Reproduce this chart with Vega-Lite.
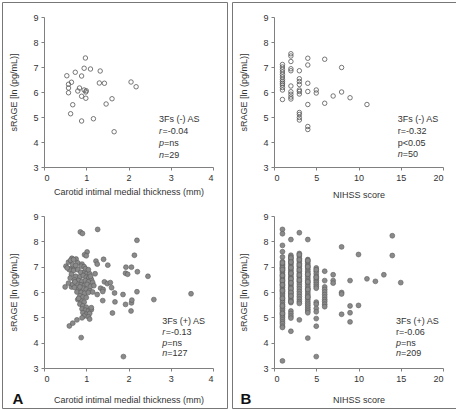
{
"$schema": "https://vega.github.io/schema/vega-lite/v6.json",
"padding": {"left": 1, "top": 1, "right": 1, "bottom": 1},
"autosize": {"type": "pad"},
"spacing": 3,
"config": {
  "font": "Liberation Sans",
  "view": {"stroke": "#777", "strokeWidth": 1},
  "axis": {"grid": false, "format": "d", "domainColor": "#808080", "tickColor": "#808080", "labelColor": "#333", "titleColor": "#333", "labelFontSize": 9, "titleFontSize": 9, "titleFontWeight": "normal", "tickSize": 3, "labelPadding": 3},
  "text": {"fontSize": 9, "color": "#333", "align": "left", "baseline": "middle"}
},
"datasets": {
  "ta": [{"cimt":0.98,"srage":7.36},{"cimt":0.95,"srage":6.95},{"cimt":1.10,"srage":6.92},{"cimt":1.33,"srage":6.84},{"cimt":0.74,"srage":6.79},{"cimt":0.54,"srage":6.65},{"cimt":0.89,"srage":6.64},{"cimt":0.65,"srage":6.39},{"cimt":0.58,"srage":6.31},{"cimt":1.31,"srage":6.36},{"cimt":1.43,"srage":6.35},{"cimt":2.06,"srage":6.40},{"cimt":2.18,"srage":6.21},{"cimt":0.58,"srage":6.16},{"cimt":0.84,"srage":6.16},{"cimt":0.80,"srage":6.04},{"cimt":0.95,"srage":6.08},{"cimt":0.99,"srage":6.00},{"cimt":0.58,"srage":5.97},{"cimt":0.89,"srage":5.83},{"cimt":0.99,"srage":5.75},{"cimt":1.61,"srage":5.73},{"cimt":1.47,"srage":5.52},{"cimt":0.68,"srage":5.49},{"cimt":0.63,"srage":5.13},{"cimt":1.17,"srage":4.93},{"cimt":0.89,"srage":4.84},{"cimt":1.66,"srage":4.41},{"cimt":1.00,"srage":6.05}],
  "ba": [{"cimt":0.86,"srage":8.37},{"cimt":0.91,"srage":8.31},{"cimt":1.27,"srage":8.47},{"cimt":2.20,"srage":8.04},{"cimt":1.02,"srage":7.58},{"cimt":0.96,"srage":7.47},{"cimt":1.00,"srage":7.43},{"cimt":2.14,"srage":7.45},{"cimt":0.66,"srage":7.33},{"cimt":0.76,"srage":7.30},{"cimt":1.41,"srage":7.29},{"cimt":1.23,"srage":7.22},{"cimt":1.26,"srage":7.10},{"cimt":1.51,"srage":7.06},{"cimt":0.52,"srage":7.02},{"cimt":1.94,"srage":6.98},{"cimt":2.07,"srage":6.98},{"cimt":0.62,"srage":6.92},{"cimt":0.72,"srage":6.95},{"cimt":1.93,"srage":6.74},{"cimt":1.98,"srage":6.70},{"cimt":2.21,"srage":6.80},{"cimt":2.46,"srage":6.62},{"cimt":1.21,"srage":6.72},{"cimt":1.43,"srage":6.40},{"cimt":1.50,"srage":6.33},{"cimt":1.57,"srage":6.37},{"cimt":1.34,"srage":6.15},{"cimt":1.40,"srage":6.10},{"cimt":1.60,"srage":6.17},{"cimt":0.50,"srage":6.20},{"cimt":0.65,"srage":6.20},{"cimt":1.39,"srage":6.02},{"cimt":1.67,"srage":5.96},{"cimt":1.26,"srage":5.90},{"cimt":1.87,"srage":5.90},{"cimt":2.20,"srage":6.01},{"cimt":3.48,"srage":5.93},{"cimt":2.60,"srage":5.70},{"cimt":1.39,"srage":5.66},{"cimt":1.68,"srage":5.61},{"cimt":1.93,"srage":5.51},{"cimt":2.07,"srage":5.57},{"cimt":2.08,"srage":5.68},{"cimt":1.62,"srage":5.17},{"cimt":2.06,"srage":5.25},{"cimt":0.60,"srage":4.66},{"cimt":0.68,"srage":4.77},{"cimt":0.78,"srage":4.90},{"cimt":0.88,"srage":4.20},{"cimt":1.88,"srage":3.45},
    {"cimt":0.58,"srage":7.18},{"cimt":0.63,"srage":7.25},{"cimt":0.70,"srage":7.28},{"cimt":0.80,"srage":7.15},{"cimt":0.90,"srage":7.10},{"cimt":0.88,"srage":7.02},{"cimt":0.95,"srage":7.00},{"cimt":0.68,"srage":7.08},{"cimt":0.75,"srage":7.05},{"cimt":0.60,"srage":6.88},{"cimt":0.70,"srage":6.85},{"cimt":0.80,"srage":6.88},{"cimt":0.87,"srage":6.78},{"cimt":0.97,"srage":6.82},{"cimt":1.02,"srage":6.75},{"cimt":1.08,"srage":6.72},{"cimt":0.65,"srage":6.70},{"cimt":0.75,"srage":6.62},{"cimt":0.85,"srage":6.60},{"cimt":0.93,"srage":6.65},{"cimt":1.00,"srage":6.58},{"cimt":1.06,"srage":6.55},{"cimt":1.12,"srage":6.50},{"cimt":0.62,"srage":6.55},{"cimt":0.72,"srage":6.48},{"cimt":0.82,"srage":6.45},{"cimt":0.90,"srage":6.42},{"cimt":0.98,"srage":6.45},{"cimt":1.05,"srage":6.40},{"cimt":1.15,"srage":6.38},{"cimt":0.58,"srage":6.35},{"cimt":0.68,"srage":6.30},{"cimt":0.78,"srage":6.32},{"cimt":0.88,"srage":6.28},{"cimt":0.95,"srage":6.25},{"cimt":1.02,"srage":6.30},{"cimt":1.10,"srage":6.22},{"cimt":0.72,"srage":6.18},{"cimt":0.82,"srage":6.12},{"cimt":0.92,"srage":6.15},{"cimt":1.00,"srage":6.10},{"cimt":1.08,"srage":6.05},{"cimt":0.78,"srage":6.00},{"cimt":0.88,"srage":5.98},{"cimt":0.96,"srage":5.95},{"cimt":1.05,"srage":5.98},{"cimt":1.15,"srage":6.00},{"cimt":0.85,"srage":5.85},{"cimt":0.92,"srage":5.80},{"cimt":1.00,"srage":5.78},{"cimt":0.80,"srage":5.70},{"cimt":0.88,"srage":5.65},{"cimt":0.95,"srage":5.60},{"cimt":0.85,"srage":5.52},{"cimt":0.92,"srage":5.45},{"cimt":1.00,"srage":5.40},{"cimt":0.90,"srage":5.33},{"cimt":0.98,"srage":5.28},{"cimt":1.05,"srage":5.25},{"cimt":1.12,"srage":5.30},{"cimt":0.92,"srage":5.18},{"cimt":1.00,"srage":5.12},{"cimt":1.08,"srage":5.15},{"cimt":0.95,"srage":5.05},{"cimt":1.05,"srage":5.02},{"cimt":0.90,"srage":4.98},{"cimt":1.08,"srage":4.93},{"cimt":1.12,"srage":5.38},{"cimt":0.82,"srage":5.75},{"cimt":1.10,"srage":6.62},{"cimt":0.55,"srage":6.95},{"cimt":1.18,"srage":6.25},{"cimt":0.98,"srage":6.92},{"cimt":1.05,"srage":6.88},{"cimt":0.73,"srage":6.40},{"cimt":0.85,"srage":6.20}],
  "tb": [{"nihss":1,"srage":7.10},{"nihss":1,"srage":7.00},{"nihss":1,"srage":6.90},{"nihss":1,"srage":6.80},{"nihss":1,"srage":6.70},{"nihss":1,"srage":6.60},{"nihss":1,"srage":6.50},{"nihss":1,"srage":6.42},{"nihss":1,"srage":6.35},{"nihss":1,"srage":6.28},{"nihss":1,"srage":6.18},{"nihss":1,"srage":6.08},{"nihss":1,"srage":5.70},
    {"nihss":2,"srage":7.53},{"nihss":2,"srage":7.44},{"nihss":2,"srage":7.22},{"nihss":2,"srage":6.93},{"nihss":2,"srage":6.85},{"nihss":2,"srage":6.24},{"nihss":2,"srage":6.01},{"nihss":2,"srage":5.91},{"nihss":2,"srage":5.80},{"nihss":2,"srage":5.72},
    {"nihss":3,"srage":6.85},{"nihss":3,"srage":6.53},{"nihss":3,"srage":6.42},{"nihss":3,"srage":6.30},{"nihss":3,"srage":6.08},{"nihss":3,"srage":6.02},{"nihss":3,"srage":5.92},{"nihss":3,"srage":5.18},{"nihss":3,"srage":5.10},{"nihss":3,"srage":4.98},{"nihss":3,"srage":4.88},
    {"nihss":4,"srage":7.35},{"nihss":4,"srage":7.08},{"nihss":4,"srage":6.35},{"nihss":4,"srage":6.02},{"nihss":4,"srage":5.50},{"nihss":4,"srage":4.62},{"nihss":4,"srage":4.50},
    {"nihss":5,"srage":6.08},{"nihss":5,"srage":5.96},{"nihss":6,"srage":7.31},{"nihss":6,"srage":5.55},{"nihss":7,"srage":5.84},{"nihss":8,"srage":6.98},{"nihss":8,"srage":6.00},{"nihss":9,"srage":5.77},{"nihss":11,"srage":5.50}],
  "bb": [{"nihss":1,"srage":8.47},{"nihss":1,"srage":8.30},{"nihss":1,"srage":7.84},{"nihss":1,"srage":7.59},{"nihss":1,"srage":7.38},{"nihss":1,"srage":7.20},{"nihss":1,"srage":7.10},{"nihss":1,"srage":7.05},{"nihss":1,"srage":6.98},{"nihss":1,"srage":6.92},{"nihss":1,"srage":6.85},{"nihss":1,"srage":6.78},{"nihss":1,"srage":6.70},{"nihss":1,"srage":6.62},{"nihss":1,"srage":6.55},{"nihss":1,"srage":6.48},{"nihss":1,"srage":6.40},{"nihss":1,"srage":6.32},{"nihss":1,"srage":6.25},{"nihss":1,"srage":6.18},{"nihss":1,"srage":6.10},{"nihss":1,"srage":6.02},{"nihss":1,"srage":5.95},{"nihss":1,"srage":5.88},{"nihss":1,"srage":5.80},{"nihss":1,"srage":5.72},{"nihss":1,"srage":5.65},{"nihss":1,"srage":5.58},{"nihss":1,"srage":5.50},{"nihss":1,"srage":5.42},{"nihss":1,"srage":5.35},{"nihss":1,"srage":5.28},{"nihss":1,"srage":5.20},{"nihss":1,"srage":5.12},{"nihss":1,"srage":5.05},{"nihss":1,"srage":4.98},{"nihss":1,"srage":4.90},{"nihss":1,"srage":4.82},{"nihss":1,"srage":4.75},{"nihss":1,"srage":4.65},{"nihss":1,"srage":4.60},{"nihss":1,"srage":3.28},{"nihss":1,"srage":7.15},{"nihss":1,"srage":6.95},{"nihss":1,"srage":6.88},{"nihss":1,"srage":6.65},{"nihss":1,"srage":6.45},{"nihss":1,"srage":6.28},{"nihss":1,"srage":6.05},{"nihss":1,"srage":5.75},{"nihss":1,"srage":5.45},{"nihss":1,"srage":5.15},
    {"nihss":2,"srage":8.07},{"nihss":2,"srage":7.45},{"nihss":2,"srage":7.38},{"nihss":2,"srage":7.30},{"nihss":2,"srage":7.22},{"nihss":2,"srage":7.15},{"nihss":2,"srage":7.08},{"nihss":2,"srage":7.00},{"nihss":2,"srage":6.92},{"nihss":2,"srage":6.85},{"nihss":2,"srage":6.78},{"nihss":2,"srage":6.70},{"nihss":2,"srage":6.62},{"nihss":2,"srage":6.55},{"nihss":2,"srage":6.48},{"nihss":2,"srage":6.40},{"nihss":2,"srage":6.32},{"nihss":2,"srage":6.25},{"nihss":2,"srage":6.18},{"nihss":2,"srage":6.10},{"nihss":2,"srage":6.02},{"nihss":2,"srage":5.95},{"nihss":2,"srage":5.88},{"nihss":2,"srage":5.80},{"nihss":2,"srage":5.72},{"nihss":2,"srage":5.65},{"nihss":2,"srage":5.58},{"nihss":2,"srage":5.25},{"nihss":2,"srage":5.15},{"nihss":2,"srage":5.05},{"nihss":2,"srage":4.97},{"nihss":2,"srage":4.45},{"nihss":2,"srage":7.34},{"nihss":2,"srage":7.18},{"nihss":2,"srage":6.96},{"nihss":2,"srage":6.74},{"nihss":2,"srage":6.52},{"nihss":2,"srage":6.36},{"nihss":2,"srage":6.14},{"nihss":2,"srage":5.98},{"nihss":2,"srage":5.84},{"nihss":2,"srage":5.62},
    {"nihss":3,"srage":8.34},{"nihss":3,"srage":7.52},{"nihss":3,"srage":7.42},{"nihss":3,"srage":7.32},{"nihss":3,"srage":7.22},{"nihss":3,"srage":7.12},{"nihss":3,"srage":7.02},{"nihss":3,"srage":6.92},{"nihss":3,"srage":6.82},{"nihss":3,"srage":6.72},{"nihss":3,"srage":6.62},{"nihss":3,"srage":6.52},{"nihss":3,"srage":6.42},{"nihss":3,"srage":6.32},{"nihss":3,"srage":6.22},{"nihss":3,"srage":6.12},{"nihss":3,"srage":6.02},{"nihss":3,"srage":5.92},{"nihss":3,"srage":5.82},{"nihss":3,"srage":5.72},{"nihss":3,"srage":5.62},{"nihss":3,"srage":5.55},{"nihss":3,"srage":4.90},{"nihss":3,"srage":7.47},{"nihss":3,"srage":7.27},{"nihss":3,"srage":7.07},{"nihss":3,"srage":6.87},{"nihss":3,"srage":6.67},{"nihss":3,"srage":6.47},
    {"nihss":4,"srage":8.07},{"nihss":4,"srage":7.28},{"nihss":4,"srage":7.20},{"nihss":4,"srage":7.12},{"nihss":4,"srage":7.05},{"nihss":4,"srage":6.98},{"nihss":4,"srage":6.90},{"nihss":4,"srage":6.82},{"nihss":4,"srage":6.75},{"nihss":4,"srage":6.68},{"nihss":4,"srage":6.60},{"nihss":4,"srage":6.52},{"nihss":4,"srage":6.45},{"nihss":4,"srage":6.38},{"nihss":4,"srage":6.30},{"nihss":4,"srage":6.22},{"nihss":4,"srage":6.15},{"nihss":4,"srage":6.08},{"nihss":4,"srage":6.00},{"nihss":4,"srage":5.92},{"nihss":4,"srage":5.85},{"nihss":4,"srage":5.78},{"nihss":4,"srage":5.70},{"nihss":4,"srage":5.62},{"nihss":4,"srage":5.55},{"nihss":4,"srage":5.48},{"nihss":4,"srage":5.40},{"nihss":4,"srage":5.32},{"nihss":4,"srage":5.25},{"nihss":4,"srage":5.18},{"nihss":4,"srage":4.18},{"nihss":4,"srage":7.24},{"nihss":4,"srage":7.00},{"nihss":4,"srage":6.70},{"nihss":4,"srage":6.40},{"nihss":4,"srage":6.10},{"nihss":4,"srage":5.80},
    {"nihss":5,"srage":6.95},{"nihss":5,"srage":6.82},{"nihss":5,"srage":6.72},{"nihss":5,"srage":6.62},{"nihss":5,"srage":6.52},{"nihss":5,"srage":6.45},{"nihss":5,"srage":6.38},{"nihss":5,"srage":6.30},{"nihss":5,"srage":6.22},{"nihss":5,"srage":6.15},{"nihss":5,"srage":5.60},{"nihss":5,"srage":5.52},{"nihss":5,"srage":5.35},{"nihss":5,"srage":5.22},{"nihss":5,"srage":4.95},{"nihss":5,"srage":4.65},{"nihss":5,"srage":3.45},{"nihss":5,"srage":6.88},{"nihss":5,"srage":6.58},
    {"nihss":6,"srage":6.82},{"nihss":6,"srage":6.45},{"nihss":6,"srage":6.20},{"nihss":6,"srage":6.10},{"nihss":6,"srage":6.00},{"nihss":6,"srage":5.90},{"nihss":6,"srage":5.80},{"nihss":6,"srage":5.70},{"nihss":6,"srage":5.62},{"nihss":6,"srage":5.52},{"nihss":6,"srage":5.42},
    {"nihss":7,"srage":6.68},{"nihss":7,"srage":6.45},{"nihss":7,"srage":6.35},{"nihss":8,"srage":7.78},{"nihss":8,"srage":5.98},{"nihss":8,"srage":5.92},{"nihss":8,"srage":5.12},{"nihss":9,"srage":6.45},{"nihss":9,"srage":5.45},{"nihss":9,"srage":5.18},{"nihss":9,"srage":4.82},{"nihss":10,"srage":7.48},{"nihss":10,"srage":5.47},{"nihss":11,"srage":6.52},{"nihss":12,"srage":6.42},{"nihss":13,"srage":6.68},{"nihss":14,"srage":8.22},{"nihss":14,"srage":7.44},{"nihss":15,"srage":6.37}]
},
"hconcat": [
 {
  "width": 225, "height": 406,
  "resolve": {"scale": {"x": "independent", "y": "independent"}, "axis": {"x": "independent", "y": "independent"}},
  "layer": [
   {"layer": [
     {"data": {"name": "ta"}, "mark": {"type": "point", "shape": "circle", "filled": false, "stroke": "#555", "strokeWidth": 0.8, "size": 20, "opacity": 1},
      "encoding": {
       "x": {"field": "cimt", "type": "quantitative", "scale": {"domain": [0, 4], "range": [42, 211], "nice": false, "zero": false}, "axis": {"orient": "bottom", "offset": -241, "values": [0,1,2,3,4], "title": "Carotid intimal medial thickness (mm)", "titlePadding": 5}},
       "y": {"field": "srage", "type": "quantitative", "scale": {"domain": [3, 9], "range": [165, 15], "nice": false, "zero": false}, "axis": {"orient": "left", "offset": -42, "values": [3,4,5,6,7,8,9], "title": "sRAGE [ln (pg/mL)]", "titlePadding": 14}}}},
     {"data": {"values": [{}]}, "mark": {"type": "text"}, "encoding": {"x": {"datum": 2.72}, "y": {"datum": 4.92}, "text": {"value": "3Fs (-) AS"}}},
     {"data": {"values": [{}]}, "mark": {"type": "text", "fontStyle": "italic"}, "encoding": {"x": {"datum": 2.72}, "y": {"datum": 4.44}, "text": {"value": "r"}}},
     {"data": {"values": [{}]}, "mark": {"type": "text", "dx": 3.5}, "encoding": {"x": {"datum": 2.72}, "y": {"datum": 4.44}, "text": {"value": "=-0.04"}}},
     {"data": {"values": [{}]}, "mark": {"type": "text", "fontStyle": "italic"}, "encoding": {"x": {"datum": 2.72}, "y": {"datum": 3.96}, "text": {"value": "p"}}},
     {"data": {"values": [{}]}, "mark": {"type": "text", "dx": 5}, "encoding": {"x": {"datum": 2.72}, "y": {"datum": 3.96}, "text": {"value": "=ns"}}},
     {"data": {"values": [{}]}, "mark": {"type": "text", "fontStyle": "italic"}, "encoding": {"x": {"datum": 2.72}, "y": {"datum": 3.5}, "text": {"value": "n"}}},
     {"data": {"values": [{}]}, "mark": {"type": "text", "dx": 5}, "encoding": {"x": {"datum": 2.72}, "y": {"datum": 3.5}, "text": {"value": "=29"}}}
   ]},
   {"layer": [
     {"data": {"name": "ba"}, "mark": {"type": "point", "shape": "circle", "filled": true, "fill": "#8a8a8a", "stroke": "#5a5a5a", "strokeWidth": 0.6, "size": 24, "opacity": 1},
      "encoding": {
       "x": {"field": "cimt", "type": "quantitative", "scale": {"domain": [0, 4], "range": [42, 211], "nice": false, "zero": false}, "axis": {"orient": "bottom", "offset": -40, "values": [0,1,2,3,4], "title": "Carotid intimal medial thickness (mm)", "titlePadding": 12}},
       "y": {"field": "srage", "type": "quantitative", "scale": {"domain": [3, 9], "range": [366, 214], "nice": false, "zero": false}, "axis": {"orient": "left", "offset": -42, "values": [3,4,5,6,7,8,9], "title": "sRAGE [ln (pg/mL)]", "titlePadding": 14}}}},
     {"data": {"values": [{}]}, "mark": {"type": "text"}, "encoding": {"x": {"datum": 2.8}, "y": {"datum": 4.85}, "text": {"value": "3Fs (+) AS"}}},
     {"data": {"values": [{}]}, "mark": {"type": "text", "fontStyle": "italic"}, "encoding": {"x": {"datum": 2.8}, "y": {"datum": 4.43}, "text": {"value": "r"}}},
     {"data": {"values": [{}]}, "mark": {"type": "text", "dx": 3.5}, "encoding": {"x": {"datum": 2.8}, "y": {"datum": 4.43}, "text": {"value": "=-0.13"}}},
     {"data": {"values": [{}]}, "mark": {"type": "text", "fontStyle": "italic"}, "encoding": {"x": {"datum": 2.8}, "y": {"datum": 4.0}, "text": {"value": "p"}}},
     {"data": {"values": [{}]}, "mark": {"type": "text", "dx": 5}, "encoding": {"x": {"datum": 2.8}, "y": {"datum": 4.0}, "text": {"value": "=ns"}}},
     {"data": {"values": [{}]}, "mark": {"type": "text", "fontStyle": "italic"}, "encoding": {"x": {"datum": 2.8}, "y": {"datum": 3.6}, "text": {"value": "n"}}},
     {"data": {"values": [{}]}, "mark": {"type": "text", "dx": 5}, "encoding": {"x": {"datum": 2.8}, "y": {"datum": 3.6}, "text": {"value": "=127"}}},
     {"data": {"values": [{}]}, "mark": {"type": "text", "fontSize": 15, "fontWeight": "bold", "align": "center", "color": "#111"}, "encoding": {"x": {"datum": -0.62}, "y": {"datum": 1.78}, "text": {"value": "A"}}}
   ]}
  ]
 },
 {
  "width": 225, "height": 406,
  "resolve": {"scale": {"x": "independent", "y": "independent"}, "axis": {"x": "independent", "y": "independent"}},
  "layer": [
   {"layer": [
     {"data": {"name": "tb"}, "mark": {"type": "point", "shape": "circle", "filled": false, "stroke": "#555", "strokeWidth": 0.8, "size": 20, "opacity": 1},
      "encoding": {
       "x": {"field": "nihss", "type": "quantitative", "scale": {"domain": [0, 20], "range": [42, 211], "nice": false, "zero": false}, "axis": {"orient": "bottom", "offset": -241, "values": [0,5,10,15,20], "title": "NIHSS score", "titlePadding": 8}},
       "y": {"field": "srage", "type": "quantitative", "scale": {"domain": [3, 9], "range": [165, 15], "nice": false, "zero": false}, "axis": {"orient": "left", "offset": -42, "values": [3,4,5,6,7,8,9], "title": "sRAGE [ln (pg/mL)]", "titlePadding": 14}}}},
     {"data": {"values": [{}]}, "mark": {"type": "text"}, "encoding": {"x": {"datum": 14.64}, "y": {"datum": 4.91}, "text": {"value": "3Fs (-) AS"}}},
     {"data": {"values": [{}]}, "mark": {"type": "text"}, "encoding": {"x": {"datum": 14.64}, "y": {"datum": 4.44}, "text": {"value": "r=-0.32"}}},
     {"data": {"values": [{}]}, "mark": {"type": "text"}, "encoding": {"x": {"datum": 14.64}, "y": {"datum": 3.97}, "text": {"value": "p<0.05"}}},
     {"data": {"values": [{}]}, "mark": {"type": "text", "fontStyle": "italic"}, "encoding": {"x": {"datum": 14.64}, "y": {"datum": 3.53}, "text": {"value": "n"}}},
     {"data": {"values": [{}]}, "mark": {"type": "text", "dx": 5}, "encoding": {"x": {"datum": 14.64}, "y": {"datum": 3.53}, "text": {"value": "=50"}}}
   ]},
   {"layer": [
     {"data": {"name": "bb"}, "mark": {"type": "point", "shape": "circle", "filled": true, "fill": "#8a8a8a", "stroke": "#5a5a5a", "strokeWidth": 0.6, "size": 24, "opacity": 1},
      "encoding": {
       "x": {"field": "nihss", "type": "quantitative", "scale": {"domain": [0, 20], "range": [42, 211], "nice": false, "zero": false}, "axis": {"orient": "bottom", "offset": -40, "values": [0,5,10,15,20], "title": "NIHSS score", "titlePadding": 12}},
       "y": {"field": "srage", "type": "quantitative", "scale": {"domain": [3, 9], "range": [366, 214], "nice": false, "zero": false}, "axis": {"orient": "left", "offset": -42, "values": [3,4,5,6,7,8,9], "title": "sRAGE [ln (pg/mL)]", "titlePadding": 14}}}},
     {"data": {"values": [{}]}, "mark": {"type": "text"}, "encoding": {"x": {"datum": 14.44}, "y": {"datum": 4.85}, "text": {"value": "3Fs (+) AS"}}},
     {"data": {"values": [{}]}, "mark": {"type": "text"}, "encoding": {"x": {"datum": 14.44}, "y": {"datum": 4.43}, "text": {"value": "r=-0.06"}}},
     {"data": {"values": [{}]}, "mark": {"type": "text", "fontStyle": "italic"}, "encoding": {"x": {"datum": 14.44}, "y": {"datum": 4.0}, "text": {"value": "p"}}},
     {"data": {"values": [{}]}, "mark": {"type": "text", "dx": 5}, "encoding": {"x": {"datum": 14.44}, "y": {"datum": 4.0}, "text": {"value": "=ns"}}},
     {"data": {"values": [{}]}, "mark": {"type": "text", "fontStyle": "italic"}, "encoding": {"x": {"datum": 14.44}, "y": {"datum": 3.6}, "text": {"value": "n"}}},
     {"data": {"values": [{}]}, "mark": {"type": "text", "dx": 5}, "encoding": {"x": {"datum": 14.44}, "y": {"datum": 3.6}, "text": {"value": "=209"}}},
     {"data": {"values": [{}]}, "mark": {"type": "text", "fontSize": 15, "fontWeight": "bold", "align": "center", "color": "#111"}, "encoding": {"x": {"datum": -3.31}, "y": {"datum": 1.78}, "text": {"value": "B"}}}
   ]}
  ]
 }
]
}
